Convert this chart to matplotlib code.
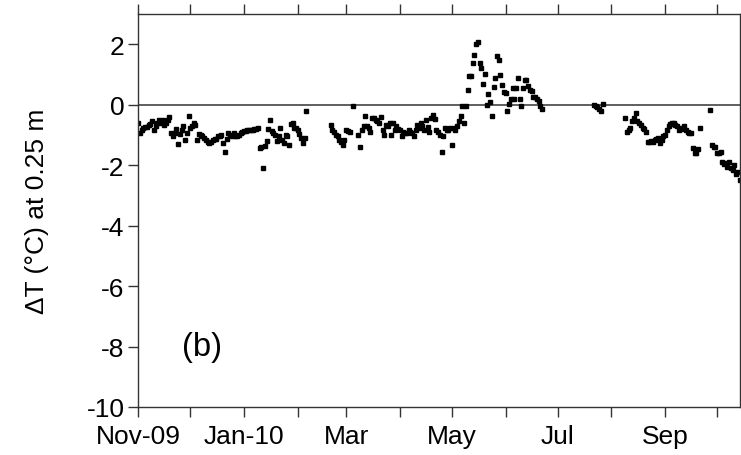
import numpy as np
import pandas as pd
import matplotlib
matplotlib.use('Agg')
import matplotlib.pyplot as plt

plt.rcParams['font.family'] = ['Liberation Sans', 'DejaVu Sans']
plt.rcParams['axes.unicode_minus'] = False

# daily dT at 0.25 m (nan = no reading)
seg_a_start = '2009-11-01'
seg_a = [-0.59, -0.94, -0.85, -0.78, -0.75, -0.73, -0.67, -0.63, -0.55, -0.85,
         -0.72, -0.61, -0.50, -0.60, -0.50, -0.67, -0.60, -0.50, -0.41, -0.92,
         -1.03, -0.94, -0.80, -1.30, -0.97, -0.85, -0.72, -1.17, -0.92, -0.37,
         -0.78, -0.72, -0.61, -0.67, -1.17, -0.97, -1.00, -1.03, -1.10, -1.18,
         -1.25, -1.28, -1.22, -1.17, -1.15, -1.12, -1.05, -1.02, -1.00, -1.28,
         -1.56, -1.15, -0.94, -1.00, -1.03, -0.95, -1.05, -1.03, -1.00, -0.94,
         -0.90, -0.87, -0.86, -0.85, -0.83, -0.83, -0.83, -0.80, -0.80, -0.76,
         -1.44, -1.40, -2.08, -1.37, -1.20, -0.80, -0.50, -0.87, -0.92, -1.00,
         -1.20, -1.03, -0.78, -1.17, -1.28, -1.00, -1.05, -1.33, -0.65, -0.59,
         -0.78, -0.78, -0.85, -0.97, -1.11, -1.26, -1.11, -0.22]

seg_b_start = '2010-02-20'
seg_b = [-0.67, -0.85, -0.89, -1.00, -1.05, -1.17, -1.22, -1.33, -1.17, -0.83,
         -0.86, -0.89, np.nan, -0.03, np.nan, np.nan, -1.00, -1.41, -0.83, -0.72,
         -0.37, -0.70, -0.78, -0.89, -0.44, -0.45, -0.50, -0.55, -0.60, -0.41,
         -0.83, -1.00, -0.67, -0.70, -0.61, -1.00, -0.61, -0.85, -0.72, -0.80,
         -0.83, -1.03, -0.89, -0.95, -0.92, -0.85, -0.89, -0.95, -1.03, -0.83,
         -0.67, -0.78, -0.61, -0.70, -0.83, -0.50, -0.75, -0.89, -0.44, -0.33,
         -0.47, -0.83, -0.90, -1.00, -1.55, -1.05, -0.78, -0.83, -0.83, -0.78,
         -1.34, -0.78, -0.83, -0.70, -0.53, -0.36, -0.05, -0.60, -0.05, 0.47,
         0.94, 0.94, 1.39, 1.64, 2.00, 2.09, 1.39, 1.22, 0.69, 1.02,
         -0.02, 0.36, 0.09, -0.36, 0.58, 0.89, 1.61, 1.47, 0.98, 0.64,
         0.41, 0.39, -0.22, 0.02, 0.20, 0.56, 0.20, 0.56, 0.89, 0.20,
         -0.05, 0.56, 0.83, 0.83, 0.61, 0.47, 0.45, 0.26, 0.24, 0.20,
         0.11, -0.05, -0.13]

seg_c_start = '2010-07-22'
seg_c = [0.00, -0.03, -0.07, -0.13, -0.22, 0.03]

seg_d_start = '2010-08-09'
seg_d = [-0.44, -0.89, -0.83, -0.76, -0.55, -0.45, -0.28, -0.55, -0.60, -0.67,
         -0.78, -0.80, -0.89, -1.22, -1.24, -1.20, -1.22, -1.17, -1.15, -1.10,
         -1.28, -1.17, -1.05, -1.00, -0.85, -0.72, -0.64, -0.61, -0.60, -0.67,
         -0.70, -0.83, -0.80, -0.76, -0.70, -0.83, -0.89, -0.94, -0.94, -1.44,
         -1.60, -1.61, -1.45, -0.76, np.nan, np.nan, np.nan, np.nan, np.nan, -0.17,
         -1.33, -1.39, -1.40, -1.61, -1.60, -1.56, -1.89, -1.95, -1.94, -2.06,
         -1.89, -2.11, -2.17, -2.00, -2.28, -2.22, -2.50]

month_ticks = pd.date_range('2009-11-01', '2010-10-01', freq='MS')
month_labels = ['Nov-09', '', 'Jan-10', '', 'Mar', '', 'May', '', 'Jul', '', 'Sep', '']

fig = plt.figure(figsize=(7.41, 4.56), dpi=100)
ax = fig.add_axes([0.1866, 0.1053, 0.8115, 0.8618])

for start, vals in [(seg_a_start, seg_a), (seg_b_start, seg_b),
                    (seg_c_start, seg_c), (seg_d_start, seg_d)]:
    dates = pd.date_range(start, periods=len(vals), freq='D')
    ax.plot(dates, vals, linestyle='none', marker='s', ms=2.5,
            color='black')

ax.axhline(0, color='#333333', lw=1.1, zorder=1)

ax.set_xlim(pd.Timestamp('2009-11-01'), pd.Timestamp('2010-10-14'))
ax.set_ylim(-10, 3)
ax.set_yticks([2, 0, -2, -4, -6, -8, -10])
ax.set_xticks(month_ticks)
ax.set_xticklabels(month_labels)

for s in ax.spines.values():
    s.set_color('#333333')
    s.set_linewidth(1.0)

ax.tick_params(axis='both', direction='out', length=7, width=1.0,
               color='#333333', labelsize=19)
ax.tick_params(axis='x', top=True, pad=5)
ax.tick_params(axis='y', pad=3)

ax.set_ylabel('ΔT (°C) at 0.25 m', fontsize=19, labelpad=27)
ax.text(0.072, 0.155, '(b)', transform=ax.transAxes, fontsize=23.5,
        ha='left', va='center')

fig.savefig('out.png', dpi=100)
